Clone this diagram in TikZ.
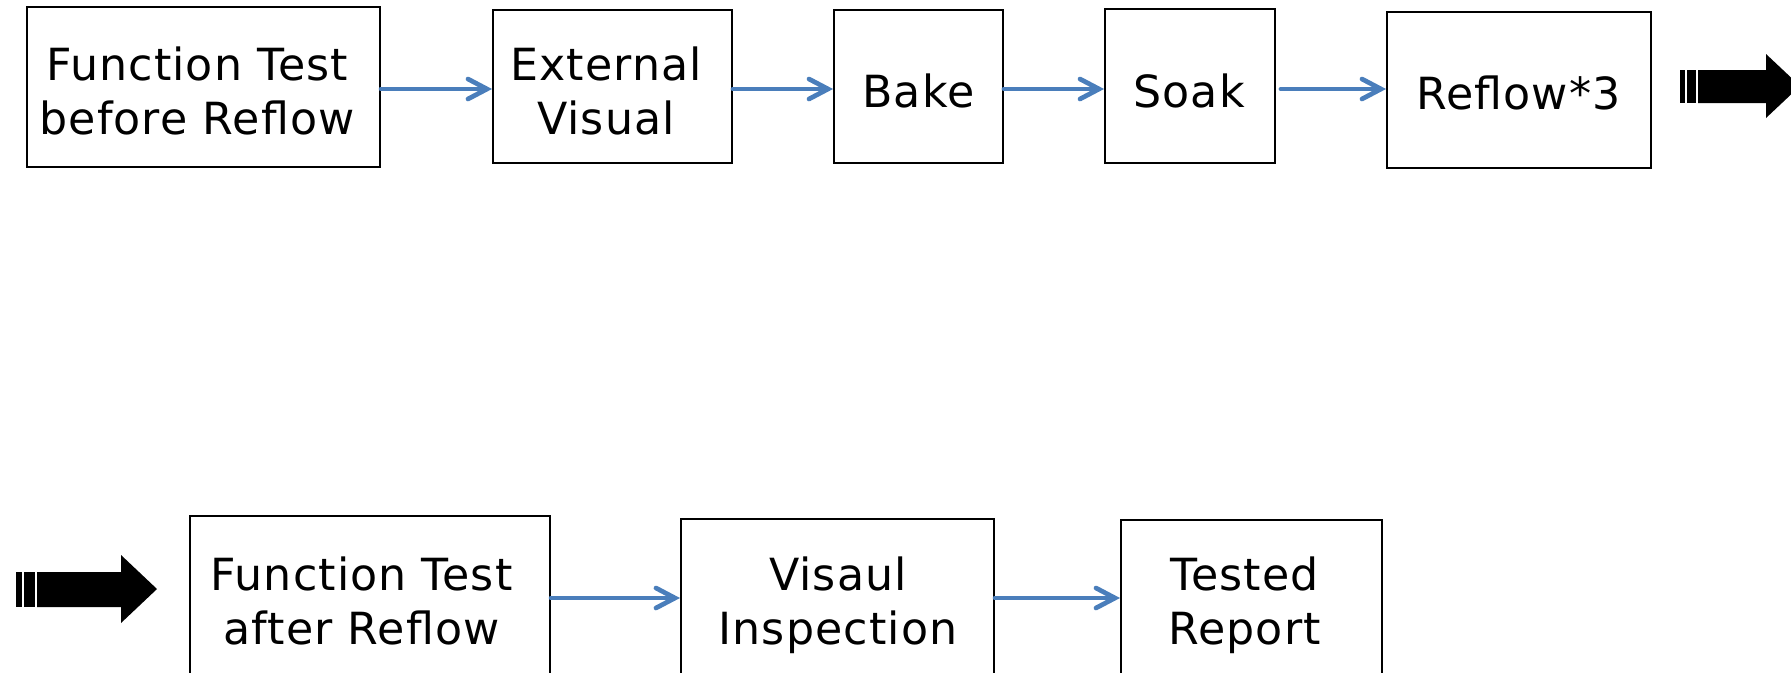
\documentclass[tikz,border=0pt]{standalone}
\usepackage{fontspec}
\setmainfont[LetterSpace=2.5]{DejaVu Sans}
\usetikzlibrary{arrows.meta}
\definecolor{flowblue}{RGB}{74,126,187}
\tikzset{
  stepbox/.style={draw=black, line width=0.018cm, fill=white, inner sep=0pt},
  % base anchor of a two-line label sits on its last line
  steptext/.style={anchor=base, inner sep=0pt, align=center,
    font=\fontsize{12.6}{15.35}\selectfont},
  flow/.style={draw=flowblue, line width=0.047cm, line cap=round,
    -{Straight Barb[length=0.19cm, width=0.2cm, line cap=round]}},
}
\begin{document}
\begin{tikzpicture}[x=0.01cm, y=-0.01cm]
  \useasboundingbox (0,0) rectangle (1791,672);
  \clip (0,0) rectangle (1791,672);

  % first row of process steps
  \node[stepbox, minimum width=3.53cm, minimum height=1.60cm] (b1) at (203.5,87) {};
  \node[stepbox, minimum width=2.39cm, minimum height=1.53cm] (b2) at (612.5,86.5) {};
  \node[stepbox, minimum width=1.69cm, minimum height=1.53cm] (b3) at (918.5,86.5) {};
  \node[stepbox, minimum width=1.70cm, minimum height=1.54cm] (b4) at (1190,86) {};
  \node[stepbox, minimum width=2.64cm, minimum height=1.56cm] (b5) at (1519,90) {};

  % second row of process steps
  \node[stepbox, minimum width=3.60cm, minimum height=1.64cm] (b6) at (370,598) {};
  \node[stepbox, minimum width=3.13cm, minimum height=1.58cm] (b7) at (837.5,598) {};
  \node[stepbox, minimum width=2.61cm, minimum height=1.56cm] (b8) at (1251.5,598) {};

  % step labels
  \node[steptext] (t1) at (197,134.5) {Function Test\\before Reflow};
  \node[steptext] (t2) at (606,134.5) {External\\Visual};
  \node[steptext] (t3) at (918.5,107) {Bake};
  \node[steptext] (t4) at (1189,107) {Soak};
  \node[steptext] (t5) at (1518.5,109) {Reflow*3};
  \node[steptext] (t6) at (361.5,644) {Function Test\\after Reflow};
  \node[steptext] (t7) at (838,644) {Visaul\\Inspection};
  \node[steptext] (t8) at (1244.5,644) {Tested\\Report};

  % heights of the connector rows
  \coordinate (row1) at (0,89);
  \coordinate (row2) at (0,598);

  \draw[flow] (b1.east |- row1) -- (b2.west |- row1);
  \draw[flow] (b2.east |- row1) -- (b3.west |- row1);
  \draw[flow] (b3.east |- row1) -- (b4.west |- row1);
  \draw[flow, shorten <=0.05cm] (b4.east |- row1) -- (b5.west |- row1);
  \draw[flow] (b6.east |- row2) -- (b7.west |- row2);
  \draw[flow] (b7.east |- row2) -- (b8.west |- row2);

  % striped continuation arrow at the end of the first row
  \fill[black] (1680,70) rectangle (1685,103);
  \fill[black] (1687,70) rectangle (1696,103);
  \fill[black] (1698,70) -- (1766,70) -- (1766,54) -- (1800,86)
    -- (1766,118) -- (1766,103) -- (1698,103) -- cycle;

  % striped continuation arrow at the start of the second row
  \fill[black] (16,572) rectangle (22,607);
  \fill[black] (24,572) rectangle (35,607);
  \fill[black] (37,572) -- (121,572) -- (121,555) -- (157,589)
    -- (121,623) -- (121,607) -- (37,607) -- cycle;
\end{tikzpicture}
\end{document}
